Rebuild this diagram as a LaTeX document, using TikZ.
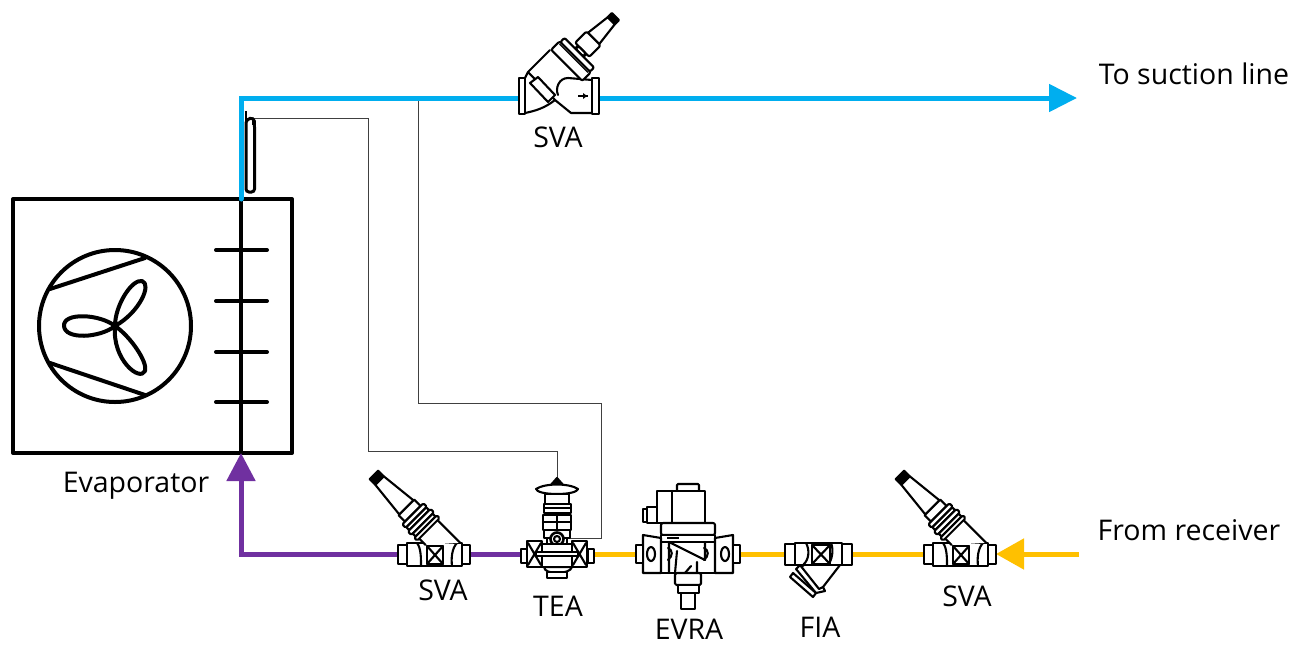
\documentclass[tikz,border=0pt]{standalone}
\usepackage{fontspec}
\setmainfont{Open Sans}
\usetikzlibrary{arrows.meta}
\definecolor{pipeblue}{HTML}{00AEEF}
\definecolor{pipepurple}{HTML}{7030A0}
\definecolor{pipeyellow}{HTML}{FFC000}
\definecolor{capgray}{HTML}{404040}
\tikzset{
  v/.style={draw=black,line width=2.1pt,fill=white,line join=round},
  vl/.style={draw=black,line width=2.1pt,line join=round,line cap=round},
  evap/.style={draw=black,line width=4pt,line join=round,line cap=round},
  pipe/.style={line width=5pt,line join=miter},
  capline/.style={draw=capgray,line width=0.9pt},
  lab/.style={font=\fontsize{28.5}{32}\selectfont,inner sep=0pt,text=black},
  pics/spindle/.style={code={
    \path[v,fill=black] (-68,-6) rectangle (-60,6);
    \path[v] (-60,-6) -- (-22,-10) -- (-22,10) -- (-60,6) -- cycle;
    \path[v] (-22,-11) rectangle (-13,11);
    \path[fill=white] (9,-13) -- (41,-13) -- (18,13) -- (9,13) -- cycle;
    \draw[vl] (9,-13) -- (41,-13) (9,13) -- (18,13);
    \path[v,rounded corners=1.5pt] (-13,-15) rectangle (-8,15);
    \path[v] (-8,-14) rectangle (-4,14);
    \path[v,rounded corners=1.5pt] (-4,-16) rectangle (1,16);
    \path[v] (1,-14) rectangle (5,14);
    \path[v,rounded corners=1.5pt] (5,-16) rectangle (9,16);
  }},
  pics/svalow/.style={code={
    \path[v] (-36,-9) rectangle (-27,10);
    \path[v] (28,-9) rectangle (36,10);
    \path[v] (-27,-11) rectangle (28,12);
    \draw[vl] (-17,-11) .. controls (-13,-6) and (-13,4) .. (-13,12);
    \draw[vl] (23,-11) .. controls (18,-6) and (17,4) .. (18,12);
    \pic[shift={(-12,-31)},rotate=-45] {spindle};
    \path[v] (-7,-8) rectangle (9,10);
    \draw[vl] (-7,-8) -- (9,10) (9,-8) -- (-7,10);
  }},
  pics/svatop/.style={code={
    \path[v] (-40,-20) rectangle (-34,16);
    \path[v] (33,-20) rectangle (40,16);
    \draw[vl] (33,15) -- (12,15) -- (-4,2) .. controls (-14,10) and (-24,13) .. (-34,15);
    \draw[vl] (-34,-20) -- (-31,-26);
    \path[fill=white] (-31,-26) -- (-9,-48) -- (24,-18) -- (9,-20) -- (-1,-3) -- (-4,2) -- cycle;
    \draw[vl] (-31,-26) -- (-9,-48) (-31,-26) -- (-4,2);
    \draw[vl] (-1,-3) .. controls (-4,-10) and (0,-20) .. (9,-20) -- (33,-18);
    \begin{scope}[shift={(14,-39)},rotate=-135]
      \path[v,fill=black] (-60,-5) rectangle (-54,5);
      \path[v] (-54,-5) -- (-29,-8) -- (-29,8) -- (-54,5) -- cycle;
      \path[v,rounded corners=2pt] (-29,-10) rectangle (-13,10);
      \path[v,rounded corners=3pt] (-13,-6) rectangle (-9,6);
      \path[v,rounded corners=2pt] (-9,-21) rectangle (-3,21);
      \path[v,rounded corners=2pt] (-3,-22) rectangle (9,22);
      \draw[black,line width=1.2pt] (-1,-20) -- (-1,20);
    \end{scope}
    \path[v] (-29,-15) -- (-21,-21) -- (-4,-3) -- (-11,4) -- cycle;
    \draw[black,line width=2pt] (19,-2) -- (29,-2);
    \fill[black] (24,-5) -- (28,-2) -- (24,1) -- cycle;
  }},
  pics/tea/.style={code={
    \path[v,fill=black] (-7,-68) -- (0,-76) -- (7,-68) -- cycle;
    \path[v] (-21,-65) .. controls (-12,-71) and (12,-71) .. (21,-65) .. controls (20,-62) and (12,-60) .. (0,-60) .. controls (-12,-60) and (-20,-62) .. (-21,-65) -- cycle;
    \path[v] (-12,-60) rectangle (12,-50);
    \path[v] (-13,-50) rectangle (14,-46);
    \path[v] (-13,-46) rectangle (14,-41);
    \path[v] (-14,-39) rectangle (14,-24);
    \draw[vl] (0,-39) -- (0,-24) (-14,-32) -- (14,-32);
    \path[v] (-13,-24) rectangle (13,-16);
    \path[v] (-10,-16) rectangle (10,-8);
    \path[v,line width=2.6pt] (0,-15) circle[radius=6.5];
    \path[v] (0,-15) circle[radius=3];
    \path[v] (-13,13) .. controls (-13,21) and (13,21) .. (15,13) -- cycle;
    \path[v] (-10,18) rectangle (10,24);
    \path[v] (-36,-5) rectangle (-30,9);
    \path[v] (31,-5) rectangle (37,9);
    \path[v] (-30,-13) rectangle (-15,13);
    \path[v] (15,-13) rectangle (30,13);
    \draw[vl] (-29,-11) -- (-16,11) (-29,11) -- (-16,-11) (16,-11) -- (29,11) (16,11) -- (29,-11);
    \path[v] (-15,-10) rectangle (15,13);
    \path[v,fill=white] (-21,-2) rectangle (21,2);
  }},
  pics/evra/.style={code={
    \path[v,rounded corners=1pt] (-10,-70) rectangle (12,-62);
    \path[v] (-30,-63) rectangle (18,-31);
    \draw[vl] (-15,-63) -- (-15,-31);
    \path[v] (-40,-47) rectangle (-30,-31);
    \draw[vl] (-44,-45) rectangle (-40,-32);
    \path[v,rounded corners=2pt] (-26,-31) rectangle (28,-19);
    \draw[black,line width=2.6pt] (-24,-31) -- (26,-31);
    \path[v] (-26,-19) rectangle (28,19);
    \path[v] (-44,-19) -- (-26,-16) -- (-26,19) -- (-44,19) -- cycle;
    \path[v] (28,-16) -- (46,-19) -- (46,19) -- (28,19) -- cycle;
    \path[v] (-51,-9) rectangle (-44,9);
    \path[v] (46,-9) rectangle (53,9);
    \path[v] (-36,0) ellipse[x radius=4,y radius=7];
    \path[v] (38,0) ellipse[x radius=4,y radius=7];
    \draw[black,line width=2.2pt] (-26,-12) -- (28,-12);
    \draw[black,line width=2.5pt] (-20,-16) -- (-8,-16);
    \draw[vl] (-18,-12) -- (18,6) -- (18,-12);
    \draw[vl] (-18,-12) -- (-18,19) (-10,-3) -- (-12,19);
    \draw[vl] (-19,-6) .. controls (-14,-4) and (-14,2) .. (-19,6);
    \draw[vl] (17,-6) .. controls (22,-4) and (22,2) .. (17,6);
    \draw[vl] (-2,19) -- (4,12) (10,19) -- (10,8);
    \path[v,rounded corners=1.5pt] (-12,19) rectangle (14,31);
    \path[v] (-9,31) rectangle (12,39);
    \path[v] (-6,39) rectangle (8,55);
  }},
  pics/fia/.style={code={
    \path[v] (-35,-10) rectangle (-25,11);
    \path[v] (22,-10) rectangle (32,11);
    \path[fill=white] (-18,11) -- (20,11) -- (3,33) -- (-4,39) -- (-27,19) -- cycle;
    \draw[vl] (20,11) -- (3,33);
    \draw[vl] (-16,11) -- (-22,15);
    \path[v] (-1,35) -- (3,33) -- (5,37) -- (-4,39) -- (-24,15) -- (-20,11) -- cycle;
    \path[v] (-30,23) -- (-27,19) -- (-4,39) -- (-7,43) -- cycle;
    \path[v] (-25,-11) rectangle (22,11);
    \draw[vl] (-14,-11) .. controls (-10,-4) and (-11,6) .. (-17,11);
    \draw[vl] (11,-11) .. controls (14,-4) and (12,6) .. (8,11);
    \path[v] (-8,-9) rectangle (10,10);
    \draw[vl] (-8,-9) -- (10,10) (10,-9) -- (-8,10);
  }}
}
\begin{document}
\begin{tikzpicture}[x=1pt,y=-1pt]
\useasboundingbox (0,0) rectangle (1306,646);
\fill[white] (0,0) rectangle (1306,646);
% named points
\coordinate (top) at (241,98);
\coordinate (teeB) at (418,98);
\coordinate (corner) at (241,554);
\coordinate (evapTop) at (241,199);
\coordinate (evapBot) at (241,453);
\coordinate (suctionEnd) at (1077,98);
\coordinate (recvEnd) at (1079,554);
\coordinate (svatopL) at (519,98);
\coordinate (svatopR) at (599,98);
\coordinate (sva1L) at (398,554);
\coordinate (sva1R) at (470,554);
\coordinate (teaL) at (523,554);
\coordinate (teaR) at (593,554);
\coordinate (evraL) at (636,554);
\coordinate (evraR) at (740,554);
\coordinate (fiaL) at (785,554);
\coordinate (fiaR) at (852,554);
\coordinate (sva2L) at (924,554);
\coordinate (sva2R) at (996,554);
\coordinate (bulbTop) at (253,118);
\coordinate (c1) at (368,118);
\coordinate (c2) at (368,451);
\coordinate (c3) at (557,451);
\coordinate (teaCap) at (557,478);
\coordinate (c4) at (418,403);
\coordinate (c5) at (601,403);
\coordinate (c6) at (601,538);
\coordinate (teaSide) at (567,538);
% capillaries
\draw[capline] (bulbTop) -- (c1) -- (c2) -- (c3) -- (teaCap);
\draw[capline] (teeB) -- (c4) -- (c5) -- (c6) -- (teaSide);
% evaporator
\draw[evap] (13,199) rectangle (292,453);
\draw[evap] (evapTop) -- (evapBot);
\foreach \yy in {250,301,352,402} \draw[evap] (216,\yy) -- (267,\yy);
\draw[evap] (115,326) circle[radius=76];
\draw[evap] (50,289) -- (145,258);
\draw[evap] (50,363) -- (145,395);
\draw[evap] (115,326) .. controls (100,314) and (63,312) .. (64,326) .. controls (65,340) and (100,338) .. (115,326)
  .. controls (115,305) and (132,279) .. (142,281) .. controls (152,284) and (140,312) .. (115,326)
  .. controls (130,336) and (148,362) .. (145,371) .. controls (140,382) and (112,360) .. (115,326) -- cycle;
% bulb
\draw[black,line width=3pt,rounded corners=3pt] (246,124) -- (246,192) -- (254.5,192) -- (254.5,124) .. controls (254,117) and (246,117) .. (246,124);
\draw[black,line width=2.6pt] (246,111) -- (246,128);
\draw[black,line width=2pt] (246,119) -- (253,119) -- (253,125);
% pipes
\draw[pipe,pipeblue,line cap=round] (evapTop) -- (top) -- (svatopL);
\draw[pipe,pipeblue,-{Triangle[length=28pt,width=27pt]}] (svatopR) -- (suctionEnd);
\draw[pipe,pipepurple,-{Triangle[length=28pt,width=28pt]}] (sva1L) -- (corner) -- (evapBot);
\draw[pipe,pipepurple] (sva1R) -- (teaL);
\draw[pipe,pipeyellow] (teaR) -- (evraL);
\draw[pipe,pipeyellow] (evraR) -- (fiaL);
\draw[pipe,pipeyellow] (fiaR) -- (sva2L);
\draw[pipe,pipeyellow,-{Triangle[length=28pt,width=30pt]}] (recvEnd) -- (sva2R);
% valves
\pic at (559,98) {svatop};
\pic at (434,554) {svalow};
\pic at (557,554) {tea};
\pic at (687,554) {evra};
\pic at (820,554) {fia};
\pic at (960,554) {svalow};
% labels
\node[lab] (lsuction) at (1194,74) {To suction line};
\node[lab] (lreceiver) at (1189,530) {From receiver};
\node[lab] (levap) at (136,486) {Evaporator};
\node[lab] (lsvatop) at (558,137) {SVA};
\node[lab] (lsva1) at (443,590) {SVA};
\node[lab] (ltea) at (558,606) {TEA};
\node[lab] (levra) at (689,629) {EVRA};
\node[lab] (lfia) at (820,627) {FIA};
\node[lab] (lsva2) at (967,596) {SVA};
\end{tikzpicture}
\end{document}
